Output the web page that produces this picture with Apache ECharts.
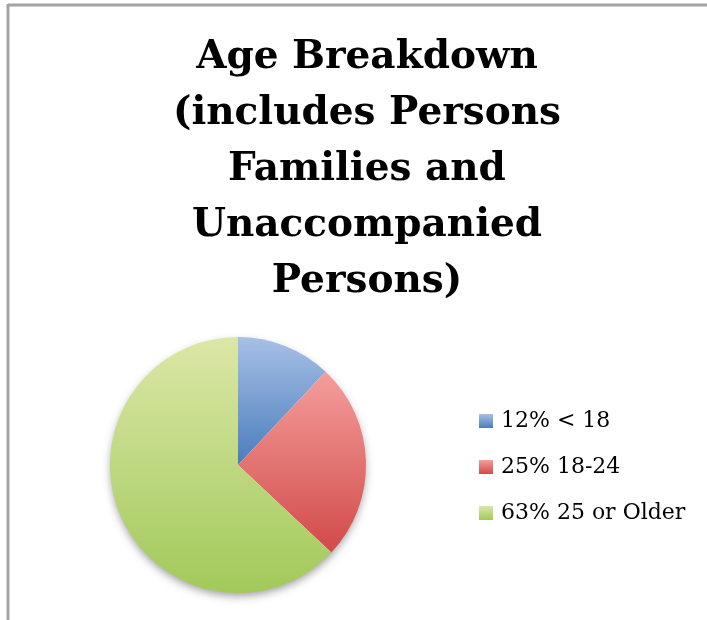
<!DOCTYPE html>
<html>
<head>
<meta charset="utf-8">
<style>
  html, body { margin: 0; padding: 0; background: #fff; }
  #chart { width: 707px; height: 620px; }
</style>
<script src="https://cdn.jsdelivr.net/npm/echarts@6/dist/echarts.min.js"></script>
</head>
<body>
<div id="chart"></div>
<script>
// Age groups and their share of all persons (percent)
const ageGroups = ['< 18', '18-24', '25 or Older'];
const sharePercent = [12, 25, 63];
const titleLines = ['Age Breakdown', '(includes Persons', 'Families and', 'Unaccompanied', 'Persons)'];

// Slice fills: light at the top, deeper toward the bottom
const sliceGradients = [
  ['#a7c0e6', '#4a7dbd'],
  ['#f49e9c', '#d14a48'],
  ['#dbe7a7', '#a2c95a']
];

function grad(pair) {
  return new echarts.graphic.LinearGradient(0, 0, 0, 1, [
    { offset: 0, color: pair[0] },
    { offset: 1, color: pair[1] }
  ]);
}

const pieData = ageGroups.map((g, i) => ({
  name: sharePercent[i] + '% ' + g,
  value: sharePercent[i],
  itemStyle: { color: grad(sliceGradients[i]) }
}));

const chart = echarts.init(document.getElementById('chart'), null, { renderer: 'canvas' });

chart.setOption({
  backgroundColor: '#ffffff',
  animation: false,
  title: {
    text: titleLines.join('\n'),
    left: 362,
    top: 25,
    textAlign: 'center',
    textStyle: {
      fontFamily: 'DejaVu Serif',
      fontWeight: 'bold',
      fontSize: 39,
      lineHeight: 56,
      color: '#000'
    }
  },
  legend: {
    orient: 'vertical',
    left: 474,
    top: 405,
    icon: 'rect',
    itemWidth: 14,
    itemHeight: 14,
    itemGap: 24,
    data: pieData.map(d => d.name),
    textStyle: {
      fontFamily: 'DejaVu Serif',
      fontSize: 22,
      color: '#000',
      padding: [0, 0, 0, 3]
    }
  },
  graphic: [
    { type: 'line', shape: { x1: 8, y1: 5, x2: 707, y2: 5 }, style: { stroke: '#a3a3a3', lineWidth: 3 } },
    { type: 'line', shape: { x1: 8, y1: 4, x2: 8, y2: 620 }, style: { stroke: '#a3a3a3', lineWidth: 3 } }
  ],
  series: [
    {
      // soft drop shadow beneath the whole disc
      type: 'pie',
      silent: true,
      legendHoverLink: false,
      center: [238, 465],
      radius: 127,
      label: { show: false },
      labelLine: { show: false },
      itemStyle: {
        color: '#ffffff',
        shadowBlur: 8,
        shadowOffsetY: 4,
        shadowColor: 'rgba(60,60,60,0.5)'
      },
      tooltip: { show: false },
      data: [{ value: 1, name: '' }]
    },
    {
      type: 'pie',
      center: [238, 465],
      radius: 128,
      startAngle: 90,
      clockwise: true,
      label: { show: false },
      labelLine: { show: false },
      itemStyle: { borderWidth: 0 },
      data: pieData
    }
  ]
});
</script>
</body>
</html>
